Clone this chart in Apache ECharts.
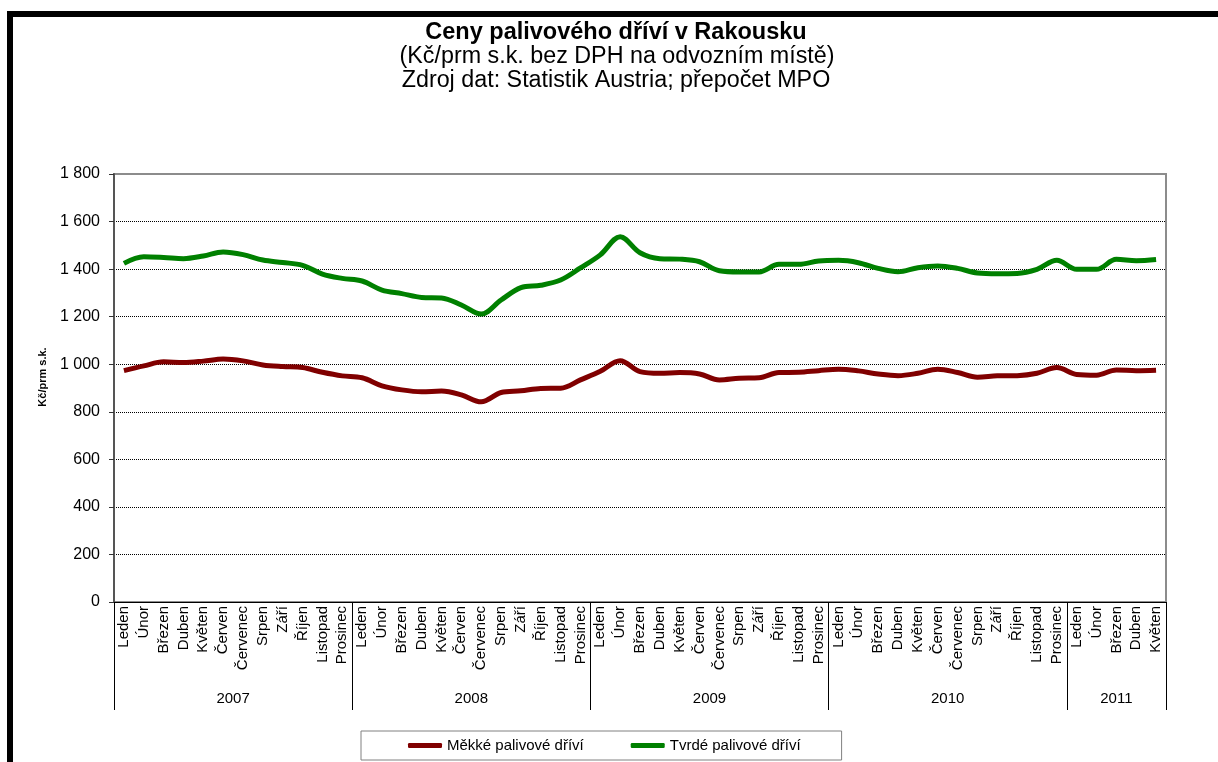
<!DOCTYPE html>
<html>
<head>
    <meta charset="utf-8">
    <title>Ceny palivového dříví v Rakousku</title>
    <script src="https://cdn.jsdelivr.net/npm/echarts@6/dist/echarts.min.js"></script>
    <style>
        html, body { margin: 0; padding: 0; background: #fff; }
    </style>
</head>

<body>
<div id="line-chart" style="width: 1218px; height: 762px;"></div>
</body>

<script>
    // měsíce a roky na ose x
    var monthNames = ['Leden', 'Únor', 'Březen', 'Duben', 'Květen', 'Červen',
        'Červenec', 'Srpen', 'Září', 'Říjen', 'Listopad', 'Prosinec'];
    var years = ['2007', '2008', '2009', '2010', '2011'];
    var monthsPerYear = [12, 12, 12, 12, 5];

    // Měkké palivové dříví (Kč/prm s.k.)
    var softWood = [973, 993, 1010, 1007, 1013, 1022, 1014, 997, 990, 986, 966, 951,
        943, 909, 892, 884, 887, 871, 842, 881, 888, 898, 899, 934,
        970, 1015, 969, 962, 965, 959, 934, 941, 943, 965, 966, 973,
        979, 972, 959, 952, 962, 979, 965, 945, 951, 952, 962, 986,
        957, 954, 976, 973, 975];

    // Tvrdé palivové dříví (Kč/prm s.k.)
    var hardWood = [1424, 1452, 1449, 1444, 1455, 1472, 1461, 1438, 1428, 1416, 1379, 1361,
        1350, 1312, 1297, 1281, 1279, 1249, 1211, 1270, 1322, 1332, 1354, 1405,
        1460, 1536, 1469, 1444, 1442, 1431, 1393, 1388, 1388, 1420, 1420, 1434,
        1437, 1427, 1403, 1389, 1406, 1413, 1403, 1384, 1381, 1382, 1399, 1437,
        1399, 1399, 1441, 1435, 1440];

    var FONT = "'Liberation Sans', Arial, sans-serif";

    // kategorie a hranice roků
    var categories = [];
    var yearEdges = [0];
    var yearCenters = [];
    monthsPerYear.forEach(function (n, i) {
        for (var m = 0; m < n; m++) categories.push(monthNames[m]);
        yearCenters.push(yearEdges[i] + n / 2);
        yearEdges.push(yearEdges[i] + n);
    });

    function fmtThousands(v) {
        return String(v).replace(/\B(?=(\d{3})+(?!\d))/g, ' ');
    }

    var chart = echarts.init(document.getElementById('line-chart'));

    chart.setOption({
        animation: false,
        backgroundColor: '#fff',
        textStyle: { fontFamily: FONT, color: '#000' },
        graphic: [
            { type: 'rect', shape: { x: 7, y: 11, width: 1211, height: 6 }, style: { fill: '#000' } },
            { type: 'rect', shape: { x: 7, y: 11, width: 6, height: 751 }, style: { fill: '#000' } },
            { type: 'text', x: 616, y: 33, style: { text: 'Ceny palivového dříví v Rakousku', fontFamily: FONT,
                fontSize: 23.5, fontWeight: 'bold', fill: '#000', align: 'center', verticalAlign: 'middle' } },
            { type: 'text', x: 617, y: 57, style: { text: '(Kč/prm s.k. bez DPH na odvozním místě)', fontFamily: FONT,
                fontSize: 23.3, fill: '#000', align: 'center', verticalAlign: 'middle' } },
            { type: 'text', x: 616, y: 81, style: { text: 'Zdroj dat: Statistik Austria; přepočet MPO', fontFamily: FONT,
                fontSize: 23.3, fill: '#000', align: 'center', verticalAlign: 'middle' } },
            { type: 'text', x: 43, y: 377, rotation: Math.PI / 2, style: { text: 'Kč/prm s.k.', fontFamily: FONT,
                fontSize: 11, fontWeight: 'bold', fill: '#000', align: 'center', verticalAlign: 'middle' } }
        ],
        legend: {
            left: 361,
            top: 731,
            padding: [7, 41, 7, 47],
            itemGap: 47,
            itemWidth: 34,
            itemHeight: 5,
            icon: 'roundRect',
            borderColor: '#808080',
            borderWidth: 1,
            textStyle: { fontSize: 15, color: '#000', fontFamily: FONT },
            data: ['Měkké palivové dříví', 'Tvrdé palivové dříví']
        },
        grid: {
            left: 114,
            right: 52,
            top: 174,
            bottom: 160,
            show: true,
            borderColor: '#8c8c8c',
            borderWidth: 2,
            containLabel: false
        },
        xAxis: [
            {
                type: 'category',
                data: categories,
                boundaryGap: true,
                position: 'bottom',
                axisLine: { lineStyle: { color: '#000', width: 1 } },
                axisTick: { interval: 0, length: 80, lineStyle: { color: '#000' } },
                axisLabel: { interval: 0, rotate: 90, margin: 4, fontSize: 15, color: '#000', hideOverlap: false },
                splitLine: { show: false }
            },
            {
                type: 'value',
                min: 0,
                max: yearEdges[yearEdges.length - 1],
                position: 'bottom',
                axisLine: { show: false },
                axisTick: { show: true, length: 108, customValues: yearEdges, lineStyle: { color: '#000' } },
                axisLabel: {
                    customValues: yearCenters,
                    margin: 89,
                    fontSize: 15,
                    color: '#000',
                    formatter: function (v) {
                        var i = yearCenters.indexOf(v);
                        return i >= 0 ? years[i] : '';
                    }
                },
                splitLine: { show: false }
            }
        ],
        yAxis: {
            type: 'value',
            min: 0,
            max: 1800,
            interval: 200,
            axisLine: { show: true, lineStyle: { color: '#555', width: 2 } },
            axisTick: { show: true, length: 5, lineStyle: { color: '#333' } },
            axisLabel: { fontSize: 16, color: '#000', margin: 14, formatter: fmtThousands },
            splitLine: { show: true, showMaxLine: false, lineStyle: { color: '#000', type: [1, 1], width: 1 } }
        },
        series: [
            {
                name: 'Měkké palivové dříví',
                type: 'line',
                data: softWood,
                smooth: 0.35,
                showSymbol: false,
                color: '#800000',
                lineStyle: { width: 5, color: '#800000' }
            },
            {
                name: 'Tvrdé palivové dříví',
                type: 'line',
                data: hardWood,
                smooth: 0.35,
                showSymbol: false,
                color: '#008000',
                lineStyle: { width: 5, color: '#008000' }
            }
        ]
    });
</script>
</html>
